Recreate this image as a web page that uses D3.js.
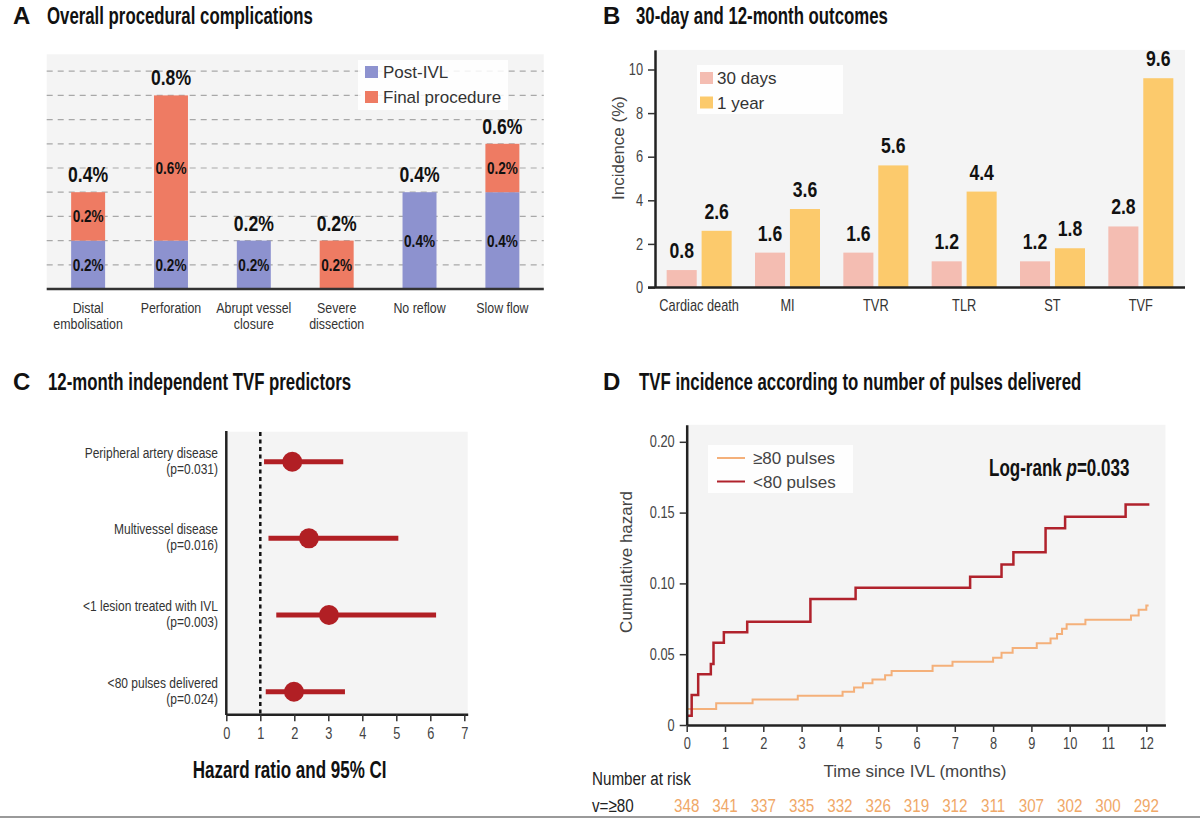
<!DOCTYPE html>
<html>
<head>
<meta charset="utf-8">
<script src="https://cdn.jsdelivr.net/npm/d3@7"></script>
<style>
  body { margin: 0; background: #fff; }
  text { font-family: 'Liberation Sans', Arial, sans-serif; }
  .axis .domain { stroke: #222; stroke-width: 2.5; }
  .axis .tick line { stroke: #333; stroke-width: 1.5; }
  .axis .tick text { font-size: 16px; fill: #444; }
</style>
</head>
<body>
<div id="chart"></div>
<script>
// panel A: procedural complications (%)
const complicationCats = ['Distal|embolisation', 'Perforation', 'Abrupt vessel|closure', 'Severe|dissection', 'No reflow', 'Slow flow'];
const postIVL = [0.2, 0.2, 0.2, 0, 0.4, 0.4];
const finalProcedure = [0.2, 0.6, 0, 0.2, 0, 0.2];

// panel B: outcomes (%)
const outcomeCats = ['Cardiac death', 'MI', 'TVR', 'TLR', 'ST', 'TVF'];
const days30 = [0.8, 1.6, 1.6, 1.2, 1.2, 2.8];
const year1 = [2.6, 3.6, 5.6, 4.4, 1.8, 9.6];
const outcomeTicks = [0, 2, 4, 6, 8, 10];

// panel C: hazard ratios
const predictors = ['Peripheral artery disease', 'Multivessel disease', '<1 lesion treated with IVL', '<80 pulses delivered'];
const predictorP = ['(p=0.031)', '(p=0.016)', '(p=0.003)', '(p=0.024)'];
const hazardRatio = [1.94, 2.43, 3.02, 1.99];
const ciLow = [1.11, 1.24, 1.47, 1.16];
const ciHigh = [3.44, 5.06, 6.17, 3.49];
const hrTicks = [0, 1, 2, 3, 4, 5, 6, 7];

// panel D: cumulative hazard step curves
const lt80Time = [0, 0.13, 0.30, 0.63, 0.70, 0.97, 1.58, 3.23, 4.41, 7.40, 8.22, 8.53, 9.37, 9.88, 11.46, 12.08];
const lt80Hazard = [0.0066, 0.0212, 0.0358, 0.043, 0.058, 0.0655, 0.073, 0.089, 0.097, 0.1047, 0.1133, 0.122, 0.139, 0.147, 0.1557, 0.1557];
const ge80Time = [0, 0.77, 1.72, 2.9, 4.07, 4.37, 4.6, 4.85, 5.18, 5.35, 6.42, 6.94, 8.0, 8.22, 8.51, 9.14, 9.5, 9.67, 9.8, 9.92, 10.41, 11.6, 11.8, 12.0, 12.06];
const ge80Hazard = [0.0113, 0.0153, 0.018, 0.0207, 0.0235, 0.0264, 0.0294, 0.0322, 0.0351, 0.0381, 0.0419, 0.0447, 0.0475, 0.0511, 0.0544, 0.0577, 0.061, 0.0643, 0.068, 0.0711, 0.0743, 0.0774, 0.0814, 0.0844, 0.0844];
const months = [0, 1, 2, 3, 4, 5, 6, 7, 8, 9, 10, 11, 12];
const atRiskGe80 = [348, 341, 337, 335, 332, 326, 319, 312, 311, 307, 302, 300, 292];
const hazardTicks = [0, 0.05, 0.10, 0.15, 0.20];

const blue = '#8d92cf', salmon = '#ee7b63', pink = '#f4bdb2', gold = '#fcca6c';
const darkRed = '#b0222c', lightOrange = '#f4b07a', forestRed = '#b11f24', bg = '#f4f4f4';

// no condensed font installed, so squeeze Liberation Sans horizontally
const SQ = 0.8;
const at = (x, y, s) => 'translate(' + x + ',' + y + ') scale(' + (s || SQ) + ',1)';

const svg = d3.select('#chart').append('svg')
    .attr('width', 1200)
    .attr('height', 819)
    .style('background', '#fff');

function panelTitle(letter, lx, tx, y, label) {
    svg.append('text').attr('x', lx).attr('y', y)
        .attr('font-weight', 'bold').attr('font-size', 24).attr('fill', '#111').text(letter);
    svg.append('text').attr('transform', at(tx, y, 0.7))
        .attr('font-weight', 'bold').attr('font-size', 24).attr('fill', '#111').text(label);
}

function squeezeTicks(g) {
    g.selectAll('.tick text').each(function() {
        const t = d3.select(this);
        const x = +t.attr('x') || 0, y = +t.attr('y') || 0;
        t.attr('x', null).attr('y', null).attr('transform', at(x, y));
    });
}

// ---------- panel A ----------
panelTitle('A', 13, 47, 24, 'Overall procedural complications');

const aX = d3.scaleBand().domain(complicationCats).range([46.7, 543.8]).paddingInner(0.59).paddingOuter(0.295);
const aY = d3.scaleLinear().domain([0, 0.97]).range([289, 289 - 0.97 * 242]);
const aMid = d => aX(d) + aX.bandwidth() / 2;

svg.append('rect').attr('x', 46.7).attr('y', aY(0.97)).attr('width', 497).attr('height', aY(0) - aY(0.97)).attr('fill', bg);

svg.append('g').selectAll('line')
    .data(d3.range(1, 10).map(d => d / 10))
    .join('line')
    .attr('x1', 46.7).attr('x2', 543.8)
    .attr('y1', d => aY(d)).attr('y2', d => aY(d))
    .attr('stroke', '#a8a8a8').attr('stroke-width', 1.2).attr('stroke-dasharray', '6,5');

const aRows = complicationCats.map((c, i) => ({cat: c, post: postIVL[i], final: finalProcedure[i]}));
const aSeries = d3.stack().keys(['post', 'final'])(aRows);
const aColor = d3.scaleOrdinal().domain(['post', 'final']).range([blue, salmon]);

aSeries.forEach(s => {
    const g = svg.append('g');
    const segs = s.filter(d => d[1] - d[0] > 0);
    g.selectAll('rect').data(segs).join('rect')
        .attr('x', d => aX(d.data.cat))
        .attr('width', aX.bandwidth())
        .attr('y', d => aY(d[1]))
        .attr('height', d => aY(d[0]) - aY(d[1]))
        .attr('fill', aColor(s.key));
    g.selectAll('text').data(segs).join('text')
        .attr('transform', d => at(aMid(d.data.cat), (aY(d[0]) + aY(d[1])) / 2 + 6))
        .attr('text-anchor', 'middle')
        .attr('font-weight', 'bold').attr('font-size', 17).attr('fill', '#111')
        .text(d => (d[1] - d[0]).toFixed(1) + '%');
});

svg.append('g').selectAll('text').data(aRows).join('text')
    .attr('transform', d => at(aMid(d.cat), aY(d.post + d.final) - 10))
    .attr('text-anchor', 'middle')
    .attr('font-weight', 'bold').attr('font-size', 22).attr('fill', '#111')
    .text(d => (d.post + d.final).toFixed(1) + '%');

svg.append('line').attr('x1', 46.7).attr('x2', 543.8).attr('y1', aY(0)).attr('y2', aY(0))
    .attr('stroke', '#333').attr('stroke-width', 2.5);

svg.append('g').selectAll('text').data(complicationCats).join('text')
    .attr('transform', d => at(aMid(d), 313))
    .attr('text-anchor', 'middle')
    .attr('font-size', 15.5).attr('fill', '#333')
    .each(function(d) {
        d.split('|').forEach((line, k) => {
            d3.select(this).append('tspan').attr('x', 0).attr('dy', k ? 16 : 0).text(line);
        });
    });

// legend A
const aLeg = svg.append('g');
aLeg.append('rect').attr('x', 358).attr('y', 60).attr('width', 150).attr('height', 50).attr('fill', '#fff').attr('opacity', 0.85);
[['Post-IVL', blue], ['Final procedure', salmon]].forEach(([lab, col], i) => {
    aLeg.append('rect').attr('x', 365).attr('y', 66 + i * 25).attr('width', 13).attr('height', 12).attr('fill', col);
    aLeg.append('text').attr('x', 383).attr('y', 78 + i * 25).attr('font-size', 17).attr('fill', '#333').text(lab);
});

// ---------- panel B ----------
panelTitle('B', 603, 636, 24, '30-day and 12-month outcomes');

const bX = d3.scaleBand().domain(outcomeCats).range([655, 1185]);
const bSub = d3.scaleBand().domain(['d30', 'y1']).range([-32.5, 32.5]).paddingInner(0.14);
const bY = d3.scaleLinear().domain([0, 10.9]).range([287.5, 287.5 - 10.9 * 21.8]);
const bColor = d3.scaleOrdinal().domain(['d30', 'y1']).range([pink, gold]);

svg.append('rect').attr('x', 655).attr('y', bY(10.9)).attr('width', 530).attr('height', bY(0) - bY(10.9)).attr('fill', bg);

const bRows = outcomeCats.map((c, i) => ({cat: c, d30: days30[i], y1: year1[i]}));
const bFlat = bRows.flatMap(r => ['d30', 'y1'].map(k => ({cat: r.cat, key: k, value: r[k]})));

svg.append('g').selectAll('rect').data(bFlat).join('rect')
    .attr('x', d => bX(d.cat) + bX.bandwidth() / 2 + bSub(d.key))
    .attr('width', bSub.bandwidth())
    .attr('y', d => bY(d.value))
    .attr('height', d => bY(0) - bY(d.value))
    .attr('fill', d => bColor(d.key));

svg.append('g').selectAll('text').data(bFlat).join('text')
    .attr('transform', d => at(bX(d.cat) + bX.bandwidth() / 2 + bSub(d.key) + bSub.bandwidth() / 2, bY(d.value) - 12))
    .attr('text-anchor', 'middle')
    .attr('font-weight', 'bold').attr('font-size', 22).attr('fill', '#111')
    .text(d => d.value.toFixed(1));

svg.append('g').attr('class', 'axis')
    .attr('transform', 'translate(655,0)')
    .call(d3.axisLeft(bY).tickValues(outcomeTicks).tickSize(7).tickSizeOuter(0).tickPadding(5))
    .call(squeezeTicks);

svg.append('line').attr('x1', 648).attr('x2', 1185).attr('y1', bY(0)).attr('y2', bY(0))
    .attr('stroke', '#222').attr('stroke-width', 2.5);

svg.append('g').selectAll('text').data(outcomeCats).join('text')
    .attr('transform', d => at(bX(d) + bX.bandwidth() / 2, 311))
    .attr('text-anchor', 'middle')
    .attr('font-size', 16).attr('fill', '#333')
    .text(d => d);

svg.append('text')
    .attr('transform', 'translate(624,148) rotate(-90)')
    .attr('text-anchor', 'middle')
    .attr('font-size', 17).attr('fill', '#444')
    .text('Incidence (%)');

const bLeg = svg.append('g');
bLeg.append('rect').attr('x', 697).attr('y', 65).attr('width', 146).attr('height', 49).attr('fill', '#fff').attr('opacity', 0.85);
[['30 days', pink], ['1 year', gold]].forEach(([lab, col], i) => {
    bLeg.append('rect').attr('x', 700).attr('y', 72 + i * 24.5).attr('width', 13).attr('height', 12).attr('fill', col);
    bLeg.append('text').attr('x', 717).attr('y', 84 + i * 24.5).attr('font-size', 17).attr('fill', '#333').text(lab);
});

// ---------- panel C ----------
panelTitle('C', 13, 48, 390, '12-month independent TVF predictors');

const cX = d3.scaleLinear().domain([0, 7.1]).range([226.3, 226.3 + 7.1 * 34]);
const cY = d3.scalePoint().domain(predictors).range([461.7, 691.7]);

svg.append('rect').attr('x', 226.3).attr('y', 431.7).attr('width', cX(7.1) - 226.3).attr('height', 714.3 - 431.7).attr('fill', bg);

svg.append('line').attr('x1', cX(1)).attr('x2', cX(1)).attr('y1', 432).attr('y2', 714)
    .attr('stroke', '#111').attr('stroke-width', 2.5).attr('stroke-dasharray', '4,3.5');

const cRows = predictors.map((p, i) => ({name: p, p: predictorP[i], hr: hazardRatio[i], lo: ciLow[i], hi: ciHigh[i]}));

svg.append('g').selectAll('line').data(cRows).join('line')
    .attr('x1', d => cX(d.lo)).attr('x2', d => cX(d.hi))
    .attr('y1', d => cY(d.name)).attr('y2', d => cY(d.name))
    .attr('stroke', forestRed).attr('stroke-width', 5);

svg.append('g').selectAll('circle').data(cRows).join('circle')
    .attr('cx', d => cX(d.hr)).attr('cy', d => cY(d.name))
    .attr('r', 10).attr('fill', forestRed);

const cLab = svg.append('g').selectAll('text').data(cRows).join('text')
    .attr('transform', d => at(218, cY(d.name)))
    .attr('text-anchor', 'end')
    .attr('font-size', 15).attr('fill', '#333');
cLab.append('tspan').attr('x', 0).attr('y', -4).text(d => d.name);
cLab.append('tspan').attr('x', 0).attr('y', 12).text(d => d.p);

svg.append('g').attr('class', 'axis')
    .attr('transform', 'translate(0,714.3)')
    .call(d3.axisBottom(cX).tickValues(hrTicks).tickSize(7).tickSizeOuter(0).tickPadding(6))
    .call(squeezeTicks);
svg.append('line').attr('x1', 226.3).attr('x2', 226.3).attr('y1', 431).attr('y2', 715)
    .attr('stroke', '#222').attr('stroke-width', 2.5);

svg.append('text')
    .attr('transform', at(289.7, 778, 0.74))
    .attr('text-anchor', 'middle')
    .attr('font-weight', 'bold').attr('font-size', 23).attr('fill', '#111')
    .text('Hazard ratio and 95% CI');

// ---------- panel D ----------
panelTitle('D', 603, 639, 390, 'TVF incidence according to number of pulses delivered');

const dX = d3.scaleLinear().domain([0, 12.5]).range([686.7, 686.7 + 12.5 * 38.3]);
const dY = d3.scaleLinear().domain([0, 0.212]).range([725, 725 - 0.212 * 1416]);

svg.append('rect').attr('x', dX(0)).attr('y', dY(0.212)).attr('width', dX(12.5) - dX(0)).attr('height', dY(0) - dY(0.212)).attr('fill', bg);

const step = d3.line().x(d => dX(d[0])).y(d => dY(d[1])).curve(d3.curveStepAfter);
const ge80Pts = ge80Time.map((t, i) => [t, ge80Hazard[i]]);
const lt80Pts = lt80Time.map((t, i) => [t, lt80Hazard[i]]);

svg.append('path').datum(ge80Pts).attr('d', step)
    .attr('fill', 'none').attr('stroke', lightOrange).attr('stroke-width', 2);
svg.append('path').datum(lt80Pts).attr('d', step)
    .attr('fill', 'none').attr('stroke', darkRed).attr('stroke-width', 2.5);

svg.append('g').attr('class', 'axis')
    .attr('transform', 'translate(686.7,0)')
    .call(d3.axisLeft(dY).tickValues(hazardTicks).tickSize(7).tickSizeOuter(0).tickPadding(5)
        .tickFormat(d => d === 0 ? '0' : d3.format('.2f')(d)))
    .call(squeezeTicks);
svg.append('g').attr('class', 'axis')
    .attr('transform', 'translate(0,725)')
    .call(d3.axisBottom(dX).tickValues(months).tickSize(7).tickSizeOuter(0).tickPadding(6))
    .call(squeezeTicks);

svg.append('text')
    .attr('transform', 'translate(632,562) rotate(-90)')
    .attr('text-anchor', 'middle')
    .attr('font-size', 17).attr('fill', '#444')
    .text('Cumulative hazard');

svg.append('text')
    .attr('x', 915).attr('y', 777)
    .attr('text-anchor', 'middle')
    .attr('font-size', 17).attr('fill', '#444')
    .text('Time since IVL (months)');

const dLeg = svg.append('g');
dLeg.append('rect').attr('x', 708).attr('y', 445).attr('width', 145).attr('height', 48).attr('fill', '#fff').attr('opacity', 0.85);
[['≥80 pulses', lightOrange], ['<80 pulses', darkRed]].forEach(([lab, col], i) => {
    dLeg.append('line').attr('x1', 717).attr('x2', 745).attr('y1', 458 + i * 23.5).attr('y2', 458 + i * 23.5)
        .attr('stroke', col).attr('stroke-width', 2);
    dLeg.append('text').attr('x', 753).attr('y', 464 + i * 23.5).attr('font-size', 17).attr('fill', '#444').text(lab);
});

const logRank = svg.append('text')
    .attr('transform', at(989, 476, 0.74))
    .attr('font-weight', 'bold').attr('font-size', 23).attr('fill', '#111');
logRank.append('tspan').text('Log-rank ');
logRank.append('tspan').attr('font-style', 'italic').text('p');
logRank.append('tspan').text('=0.033');

svg.append('text')
    .attr('transform', at(592, 785))
    .attr('font-size', 19).attr('fill', '#222')
    .text('Number at risk');
svg.append('text')
    .attr('transform', at(592, 812))
    .attr('font-size', 19).attr('fill', '#222')
    .text('v=≥80');

svg.append('g').selectAll('text').data(months).join('text')
    .attr('transform', d => at(dX(d), 812))
    .attr('text-anchor', 'middle')
    .attr('font-size', 19).attr('fill', '#f0a868')
    .text((d, i) => atRiskGe80[i]);

// cut edge of the figure below
svg.append('line').attr('x1', 0).attr('x2', 1200).attr('y1', 817).attr('y2', 817)
    .attr('stroke', '#9a9a9a').attr('stroke-width', 2);
</script>
</body>
</html>
